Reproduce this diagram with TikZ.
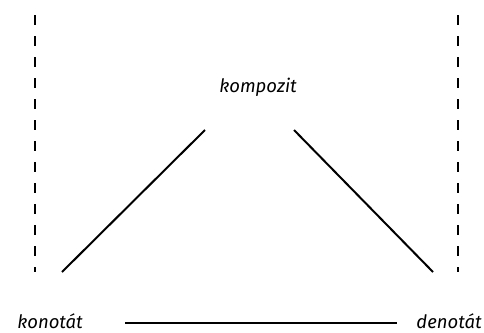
\documentclass[tikz,border=0pt]{standalone}
\usepackage{fontspec}
\setmainfont{Fira Sans}
\usetikzlibrary{positioning}

\begin{document}
\begin{tikzpicture}[x=1pt,y=-1pt, every node/.style={font=\fontsize{18.5}{22}\selectfont\itshape,inner sep=0pt,anchor=base},
  edge/.style={line width=2pt},
  bound/.style={line width=2pt,dash pattern=on 10pt off 11pt}]
\useasboundingbox (0,0) rectangle (484,332);
\node (komp) at (258,92) {kompozit};
\node (kon) at (50,328) {konotát};
\node (den) at (449,328) {denotát};
% line ends
\coordinate (kompL) at (205,130); \coordinate (kompR) at (294,130);
\coordinate (konT) at (62,272); \coordinate (konR) at (125,323);
\coordinate (denT) at (433,272); \coordinate (denL) at (397,323);
\draw[edge] (kompL)--(konT); \draw[edge] (kompR)--(denT); \draw[edge] (konR)--(denL);
% side borders
\coordinate (lt) at (35,15); \coordinate (lb) at (35,272);
\coordinate (rt) at (458,15); \coordinate (rb) at (458,272);
\draw[bound] (lt)--(lb); \draw[bound] (rt)--(rb);
\end{tikzpicture}
\end{document}
